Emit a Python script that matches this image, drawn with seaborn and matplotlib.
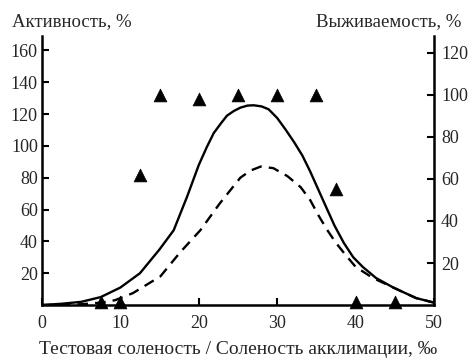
import matplotlib
matplotlib.use("Agg")
import matplotlib.pyplot as plt
import seaborn as sns
import pandas as pd

# ---- data ----
sal_solid = [0, 2.5, 5, 7.5, 10, 12.5, 15, 16.8, 18.5, 20, 21.0, 21.9, 22.8, 23.6, 24.5, 25.3, 26.2, 27, 28, 28.9, 30, 31.1, 32.2, 33.2, 34.2, 35.2, 36.2, 37.3, 38.5, 39.7, 40.9, 42.6, 44.8, 47.7, 50]
act_solid = [0, 0.8, 2, 5, 11, 20, 35, 47, 68, 88, 99, 108, 114, 119, 122, 124, 125.3, 125.5, 124.8, 123, 117.5, 110, 102, 94, 84, 73, 62, 50, 39, 30, 24, 17, 11, 4.4, 1.5]

sal_dash = [0, 5, 7.5, 9.3, 11.6, 15.1, 17.6, 20.2, 22.7, 24.0, 25.3, 26.6, 27.9, 29.5, 31.3, 33, 34.2, 35.3, 36.4, 37.5, 38.8, 40, 42.2, 44.8, 47.7, 50]
act_dash = [0, 0.5, 1.5, 3, 7.5, 18, 33, 47, 64, 72, 80, 84.5, 87, 86, 81, 74, 66, 56, 47, 39, 31, 24, 17, 11, 4.4, 1.5]

sal_surv = [7.5, 10, 12.5, 15, 20, 25, 30, 35, 37.5, 40, 45]
surv = [1.5, 1.5, 62, 100, 98, 100, 100, 100, 55, 1.5, 1.5]

x_ticks = [0, 10, 20, 30, 40, 50]
left_ticks = [20, 40, 60, 80, 100, 120, 140, 160]
right_ticks = [20, 40, 60, 80, 100, 120]

sns.set_theme(style="ticks")
plt.rcParams["font.family"] = ["Liberation Serif", "DejaVu Serif"]

FS_TICK = 13
FS_LAB = 13.5

fig = plt.figure(figsize=(4.75, 3.64), dpi=100)
ax = fig.add_axes([0.0884, 0.162, 0.8253, 0.739])

df_s = pd.DataFrame({"x": sal_solid, "y": act_solid})
df_d = pd.DataFrame({"x": sal_dash, "y": act_dash})
sns.lineplot(data=df_s, x="x", y="y", ax=ax, color="black", lw=1.7, sort=False)
sns.lineplot(data=df_d, x="x", y="y", ax=ax, color="black", lw=1.7, sort=False,
             linestyle=(0, (4.5, 3)))

ax.set_xlim(0, 50)
ax.set_ylim(0, 169)
ax.set_xticks(x_ticks)
ax.set_yticks(left_ticks)
ax.set_xlabel("Тестовая соленость / Соленость акклимации, ‰", fontsize=14,
              labelpad=7)
ax.set_ylabel("")
ax.tick_params(axis="both", direction="in", length=5, width=1.5, labelsize=FS_TICK,
               color="black")
ax.tick_params(axis="x", pad=7)
ax.tick_params(axis="y", pad=3)

ax2 = ax.twinx()
df_v = pd.DataFrame({"x": sal_surv, "y": surv})
sns.scatterplot(data=df_v, x="x", y="y", ax=ax2, marker="^", color="black",
                s=85, edgecolor="black", linewidth=0.5, clip_on=False, zorder=5)
ax2.set_ylim(0, 128)
ax2.set_yticks(right_ticks)
ax2.set_ylabel("")
ax2.set_xlabel("")
ax2.tick_params(axis="y", direction="in", length=5, width=1.5, labelsize=FS_TICK, pad=5,
                color="black")

for a in (ax, ax2):
    a.spines["top"].set_visible(False)
    for s in ("left", "right", "bottom"):
        a.spines[s].set_linewidth(1.8)
        a.spines[s].set_color("black")
ax.spines["right"].set_visible(False)
ax2.spines["left"].set_visible(False)
ax2.spines["bottom"].set_visible(False)
ax2.spines["right"].set_visible(True)

fig.text(12 / 475, 1 - 26 / 364, "Активность, %", fontsize=FS_LAB,
         ha="left", va="baseline")
fig.text(461 / 475, 1 - 26 / 364, "Выживаемость, %", fontsize=FS_LAB,
         ha="right", va="baseline")

fig.savefig("out.png", dpi=100)
